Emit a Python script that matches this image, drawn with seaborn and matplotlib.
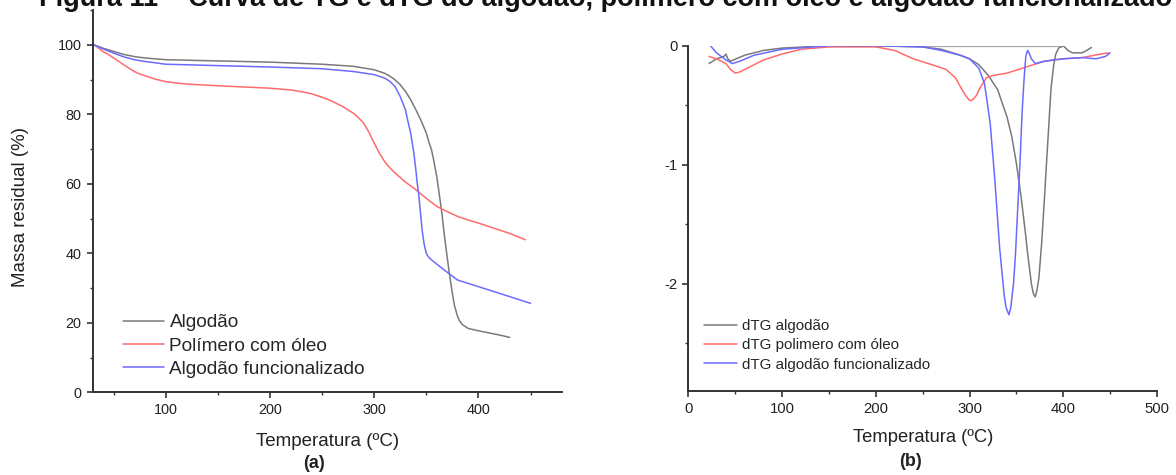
import numpy as np
import matplotlib
matplotlib.use("Agg")
import matplotlib.pyplot as plt
from matplotlib.ticker import MultipleLocator
import seaborn as sns

# TG (a)
tg_temp_algodao = [31, 40, 51, 60, 70, 80, 100, 200, 250, 280, 300, 310, 315, 320, 325, 330, 335, 340,
                   345, 350, 352, 355, 357, 360, 362, 365, 367, 370, 372, 375, 377, 380, 382, 385,
                   387, 390, 400, 420, 430]
tg_algodao = [100, 99, 98, 97.2, 96.6, 96.2, 95.7, 95.0, 94.4, 93.8, 92.8, 91.8, 91.0, 89.9, 88.5, 86.6,
              84.2, 81.3, 78.2, 74.6, 72.5, 69.8, 67, 62.1, 58, 51.5, 46, 39, 34.5, 28.5, 25, 21.8,
              20.5, 19.4, 19.0, 18.4, 17.7, 16.5, 15.8]

tg_temp_polimero = [31, 35, 40, 45, 50, 55, 60, 65, 70, 75, 80, 85, 90, 100, 110, 120, 150, 200, 220,
                    230, 240, 250, 260, 270, 280, 285, 290, 295, 300, 305, 310, 315, 320, 330, 340,
                    350, 360, 370, 380, 390, 400, 410, 420, 430, 445]
tg_polimero = [100, 99.2, 98, 97.2, 96.2, 95.2, 94.2, 93.2, 92.3, 91.6, 91.1, 90.6, 90.1, 89.4, 89.0,
               88.7, 88.2, 87.5, 87.0, 86.5, 85.9, 84.9, 83.7, 82.2, 80.3, 79, 77.4, 74.8, 71.7, 68.8,
               66.4, 64.6, 63.1, 60.5, 58.3, 55.8, 53.5, 52, 50.6, 49.6, 48.7, 47.7, 46.7, 45.7, 43.9]

tg_temp_funcional = [31, 40, 50, 60, 70, 80, 100, 150, 200, 250, 280, 300, 310, 315, 320, 325, 330, 332,
                     335, 338, 340, 341, 343, 344, 346, 348, 350, 352, 355, 365, 380, 400, 420, 450]
tg_funcional = [100, 98.8, 97.6, 96.5, 95.7, 95.2, 94.4, 94.0, 93.6, 93.1, 92.3, 91.4, 90.4, 89.5, 88,
                85.1, 81.3, 78.5, 74.6, 69, 64, 61, 56.3, 53, 46.7, 42.5, 40, 39, 38.1, 35.7, 32.3,
                30.4, 28.5, 25.6]

# dTG (b)
dtg_temp_algodao = [22, 30, 38, 40, 42, 45, 60, 80, 100, 150, 200, 250, 270, 290, 300, 310, 320, 330,
                    340, 345, 350, 355, 360, 362, 366, 368, 370, 372, 374, 377, 380, 382, 387, 390,
                    392, 395, 400, 405, 410, 420, 425, 430]
dtg_algodao = [-0.15, -0.11, -0.09, -0.07, -0.11, -0.13, -0.08, -0.04, -0.02, 0, 0, -0.01, -0.03, -0.08,
               -0.11, -0.16, -0.25, -0.37, -0.6, -0.76, -0.99, -1.27, -1.6, -1.75, -2.0, -2.08, -2.11,
               -2.05, -1.95, -1.65, -1.27, -1.0, -0.35, -0.15, -0.07, -0.02, 0.0, -0.04, -0.06, -0.06,
               -0.04, -0.015]
dtg_base_temp = [170, 400]
dtg_base = [0, 0]

dtg_temp_polimero = [22, 30, 40, 45, 50, 55, 60, 70, 80, 100, 120, 150, 200, 220, 240, 260, 275, 285,
                     292, 296, 300, 302, 305, 308, 310, 314, 318, 321, 325, 340, 360, 380, 400, 420,
                     440, 448]
dtg_polimero = [-0.09, -0.11, -0.15, -0.2, -0.23, -0.22, -0.2, -0.16, -0.12, -0.07, -0.03, -0.01, -0.01,
                -0.04, -0.11, -0.16, -0.2, -0.27, -0.37, -0.42, -0.46, -0.46, -0.44, -0.41, -0.37,
                -0.32, -0.27, -0.26, -0.25, -0.23, -0.18, -0.13, -0.11, -0.1, -0.07, -0.06]

dtg_temp_funcional = [23.5, 30, 40, 47, 55, 70, 100, 150, 200, 250, 270, 290, 300, 310, 316, 322, 327,
                      332, 337, 339, 342, 344, 347, 349, 352, 354, 356, 358, 360, 361, 362, 364, 366,
                      370, 380, 400, 420, 435, 445, 450]
dtg_funcional = [0.0, -0.06, -0.12, -0.15, -0.13, -0.08, -0.03, 0, 0, -0.01, -0.04, -0.08, -0.11, -0.19,
                 -0.32, -0.65, -1.13, -1.69, -2.1, -2.2, -2.26, -2.2, -1.99, -1.75, -1.27, -0.95, -0.57,
                 -0.3, -0.09, -0.06, -0.04, -0.07, -0.11, -0.15, -0.13, -0.11, -0.1, -0.11, -0.09, -0.06]

cinza = "#7a7a7a"
vermelho = "#ff6b6b"
azul = "#6b6bff"

sns.set_style("ticks")
plt.rcParams["font.family"] = ["Liberation Sans", "DejaVu Sans"]
plt.rcParams["axes.unicode_minus"] = False
plt.rcParams["axes.edgecolor"] = "#333333"
plt.rcParams["axes.linewidth"] = 1.4
plt.rcParams["xtick.color"] = "#333333"
plt.rcParams["ytick.color"] = "#333333"
plt.rcParams["xtick.labelcolor"] = "#222222"
plt.rcParams["ytick.labelcolor"] = "#222222"

W, H = 1176, 475
fig = plt.figure(figsize=(11.76, 4.75), dpi=100)
ax1 = fig.add_axes([92.7 / W, 1 - 392.3 / H, (561.8 - 92.7) / W, (392.3 - 10) / H])
ax2 = fig.add_axes([688.4 / W, 1 - 391 / H, (1157 - 688.4) / W, (391 - 45.7) / H])

sns.lineplot(x=tg_temp_algodao, y=tg_algodao, ax=ax1, color=cinza, lw=1.1, label="Algodão", estimator=None)
sns.lineplot(x=tg_temp_polimero, y=tg_polimero, ax=ax1, color=vermelho, lw=1.1, label="Polímero com óleo", estimator=None)
sns.lineplot(x=tg_temp_funcional, y=tg_funcional, ax=ax1, color=azul, lw=1.1, label="Algodão funcionalizado", estimator=None)

ax1.set_xlim(30, 480)
ax1.set_ylim(0, 110)
ax1.xaxis.set_minor_locator(MultipleLocator(50))
ax1.yaxis.set_minor_locator(MultipleLocator(10))
ax1.set_yticks([0, 20, 40, 60, 80, 100])
ax1.set_xticks([100, 200, 300, 400])
ax1.set_xlabel("")
ax1.set_ylabel("")
ax1.legend(loc="upper left", bbox_to_anchor=(122.5 / W, 1 - 314 / H), bbox_transform=fig.transFigure,
           frameon=False, fontsize=13.7, borderpad=0, borderaxespad=0,
           handlelength=2.2, handletextpad=0.27, labelspacing=0.31)

sns.lineplot(x=dtg_base_temp, y=dtg_base, ax=ax2, color="#a8a8a8", lw=1.6, estimator=None)
sns.lineplot(x=dtg_temp_algodao, y=dtg_algodao, ax=ax2, color=cinza, lw=1.1, label="dTG algodão", estimator=None)
sns.lineplot(x=dtg_temp_polimero, y=dtg_polimero, ax=ax2, color=vermelho, lw=1.1, label="dTG polimero com óleo", estimator=None)
sns.lineplot(x=dtg_temp_funcional, y=dtg_funcional, ax=ax2, color=azul, lw=1.1, label="dTG algodão funcionalizado", estimator=None)

ax2.set_xlim(0, 500)
ax2.set_ylim(-2.9, 0)
ax2.xaxis.set_major_locator(MultipleLocator(100))
ax2.xaxis.set_minor_locator(MultipleLocator(50))
ax2.yaxis.set_major_locator(MultipleLocator(1))
ax2.yaxis.set_minor_locator(MultipleLocator(0.5))
ax2.set_xlabel("")
ax2.set_ylabel("")
ax2.legend(loc="upper left", bbox_to_anchor=(704 / W, 1 - 319 / H), bbox_transform=fig.transFigure,
           frameon=False, fontsize=10.9, borderpad=0, borderaxespad=0,
           handlelength=2.2, handletextpad=0.3, labelspacing=0.35)

for ax, tsize in ((ax1, 10.4), (ax2, 10.7)):
    sns.despine(ax=ax)
    ax.tick_params(which="major", direction="out", length=4.5, width=1.2, labelsize=tsize)
    ax.tick_params(which="minor", direction="out", length=2.5, width=1.0)
    for spine in ax.spines.values():
        spine.set_clip_on(False)

fig.text(21 / W, 1 - 207 / H, "Massa residual (%)", rotation=90, ha="center", va="center",
         fontsize=13.5, color="#222222")
fig.text(328 / W, 1 - 442 / H, "Temperatura (ºC)", ha="center", va="center", fontsize=13.5, color="#222222")
fig.text(314 / W, 1 - 463 / H, "(a)", ha="center", va="center", fontsize=13, fontweight="bold", color="#222222")
fig.text(923 / W, 1 - 438 / H, "Temperatura (ºC)", ha="center", va="center", fontsize=13.2, color="#222222")
fig.text(910 / W, 1 - 461 / H, "(b)", ha="center", va="center", fontsize=13, fontweight="bold", color="#222222")

fig.text(606 / W, 1 - 6 / H, "Figura 11 – Curva de TG e dTG do algodão, polímero com óleo e algodão funcionalizado",
         ha="center", va="baseline", fontsize=19.5, fontweight="bold", color="#111111")

fig.savefig("out.png", dpi=100)
